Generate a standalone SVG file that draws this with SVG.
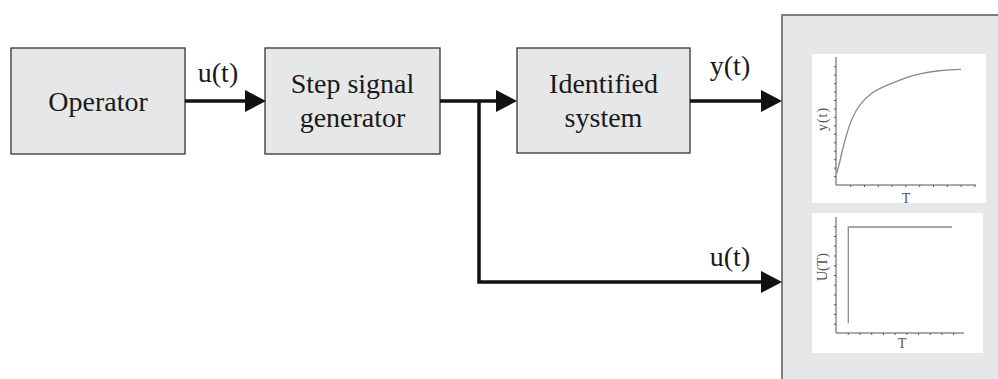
<svg xmlns="http://www.w3.org/2000/svg" width="998" height="379" viewBox="0 0 998 379">
<defs>
<style>
.box{fill:#e6e7e8;stroke:#333;stroke-width:1.3}
.lbl{font-family:"Liberation Serif","Times New Roman",serif;font-size:28px;fill:#1a1a1a;text-anchor:middle}
.wire{fill:none;stroke:#111;stroke-width:3.5}
.axis{fill:none;stroke:#555;stroke-width:1}
.curve{fill:none;stroke:#8a8a8a;stroke-width:1.3}
.small{font-family:"Liberation Serif","Times New Roman",serif;font-size:14px;fill:#555;text-anchor:middle}
</style>
<marker id="ah" markerUnits="userSpaceOnUse" markerWidth="21" markerHeight="22" refX="0" refY="11" orient="auto">
<path d="M0,0 L21,11 L0,22 z" fill="#111"/>
</marker>
</defs>
<rect width="998" height="379" fill="#fff"/>

<g id="panel">
<rect x="782" y="15" width="230" height="380" fill="#e6e7e8" stroke="#555" stroke-width="1.5"/>
<g id="chart-y">
<rect x="812" y="54" width="174" height="149" fill="#fff"/>
<path class="axis" d="M836,57 V185 H976"/>
<path class="axis" d="M834,66.7h2 M834,75.2h2 M834,83.6h2 M834,92.1h2 M834,100.5h2 M834,109h2 M834,117.4h2 M834,125.9h2 M834,134.3h2 M834,142.8h2 M834,151.2h2 M834,159.7h2 M834,168.1h2 M834,176.6h2 M850.7,185v2 M864.5,185v2 M878.3,185v2 M892.1,185v2 M905.9,185v2 M919.7,185v2 M933.5,185v2 M947.3,185v2 M961.1,185v2 M974.9,185v2"/>
<path class="curve" d="M836.7,173.3 C839,165 841,157 842,152 C845,140 848,128 852,119 C857,107 864,99 872,93 C880,87 893,83 907,77.3 C918,74 928,72 937,71 C945,70 953,69.5 961,69.3"/>
<text class="small" font-size="15" letter-spacing="1" transform="translate(827,119) rotate(-90)">y(t)</text>
<text class="small" x="906" y="203">T</text>
</g>
<g id="chart-u">
<rect x="812" y="213" width="171" height="140" fill="#fff"/>
<path class="axis" d="M836,217 V333 H964"/>
<path class="axis" d="M834,226.7h2 M834,236.5h2 M834,246.2h2 M834,256h2 M834,265.7h2 M834,275.5h2 M834,285.2h2 M834,295h2 M834,304.7h2 M834,314.5h2 M834,324.2h2 M848.3,333v2 M860,333v2 M871.7,333v2 M883.4,333v2 M895.1,333v2 M906.8,333v2 M918.5,333v2 M930.2,333v2 M941.9,333v2 M953.6,333v2"/>
<path class="curve" d="M848.3,323 V227 H952"/>
<text class="small" transform="translate(827,267) rotate(-90)">U(T)</text>
<text class="small" x="902" y="348">T</text>
</g>
</g>

<g id="operator">
<rect class="box" x="11" y="48" width="174" height="106"/>
<text class="lbl" x="98" y="111">Operator</text>
</g>
<g id="step-generator">
<rect class="box" x="265" y="48" width="175" height="106"/>
<text class="lbl" x="352.5" y="93">Step signal</text>
<text class="lbl" x="352.5" y="127">generator</text>
</g>
<g id="identified-system">
<rect class="box" x="517" y="48" width="173" height="105"/>
<text class="lbl" x="603.5" y="93">Identified</text>
<text class="lbl" x="603.5" y="127">system</text>
</g>

<g id="connectors">
<path class="wire" d="M185,101 H245" marker-end="url(#ah)"/>
<path class="wire" d="M440,101 H496" marker-end="url(#ah)"/>
<path class="wire" d="M690,101 H761" marker-end="url(#ah)"/>
<path class="wire" d="M479,101 V282 H761" marker-end="url(#ah)"/>
<text class="lbl" x="218" y="82">u(t)</text>
<text class="lbl" x="730" y="75">y(t)</text>
<text class="lbl" x="730" y="266">u(t)</text>
</g>
</svg>
